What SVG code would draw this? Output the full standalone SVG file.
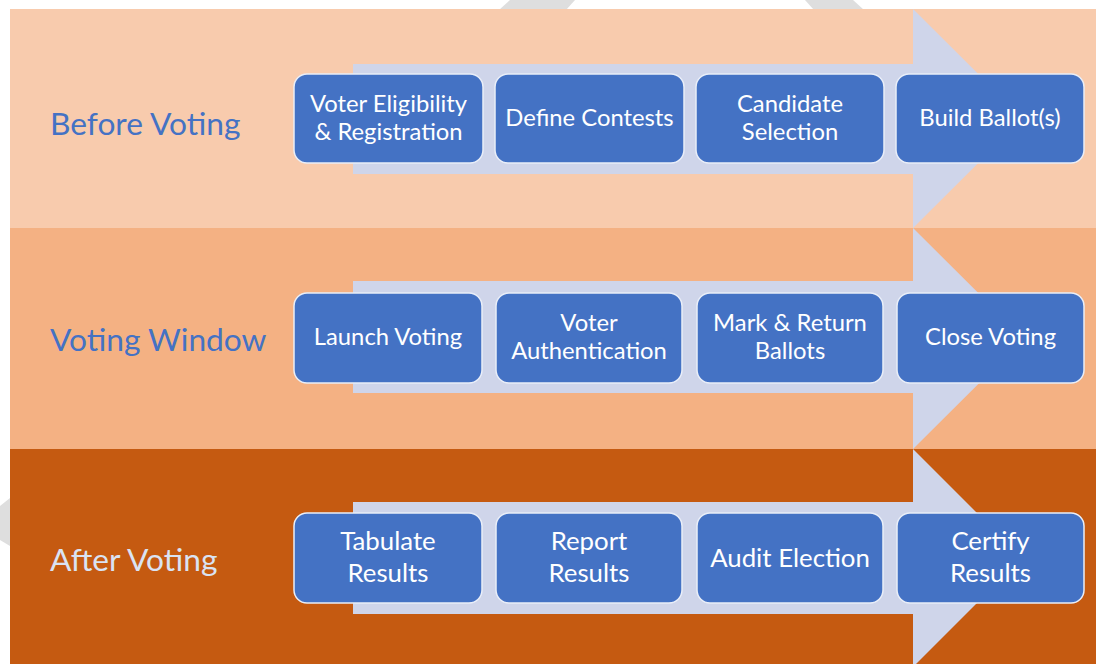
<svg xmlns="http://www.w3.org/2000/svg" width="1096" height="664" viewBox="0 0 1096 664">
<style>
.box{fill:#4472C4;stroke:#E9EEF8;stroke-width:1.5}
.bt{font-family:Lato,"Liberation Sans",sans-serif;font-size:23.8px;fill:#FFFFFF;text-anchor:middle}
.bt2{font-family:Lato,"Liberation Sans",sans-serif;font-size:25.8px;fill:#FFFFFF;text-anchor:middle}
.lbl{font-family:Lato,"Liberation Sans",sans-serif;font-size:31.7px}
.arr{fill:#CFD5EA}
.wm{fill:#DEDEDE}
</style>
<rect width="1096" height="664" fill="#FFFFFF"/>
<g id="watermark">
<polygon class="wm" points="510,0 575,0 566,10 499,10"/>
<polygon class="wm" points="805,0 853,0 864,10 814,10"/>
<polygon class="wm" points="0,506 10,498 10,546 0,540"/>
</g>
<g id="bands">
<rect x="10" y="9" width="1086" height="219" fill="#F8CBAD"/>
<rect x="10" y="228" width="1086" height="221" fill="#F4B183"/>
<rect x="10" y="449" width="1086" height="215" fill="#C55A11"/>
</g>
<g id="connectors">
<polygon class="arr" points="353,64 913,64 913,9 1023,118.5 913,228 913,174 353,174"/>
<polygon class="arr" points="353,281 913,281 913,228 1024,338.5 913,449 913,393 353,393"/>
<polygon class="arr" points="353,502 913,502 913,449 1022,558 913,667 913,614 353,614"/>
</g>
<g id="label-before"><text class="lbl" x="50" y="135" fill="#4472C4">Before Voting</text></g>
<g id="label-window"><text class="lbl" x="50" y="351" fill="#4472C4">Voting Window</text></g>
<g id="label-after"><text class="lbl" x="50" y="571" fill="#DAE3F3">After Voting</text></g>

<g id="n-eligibility"><rect class="box" x="294" y="74" width="189" height="89" rx="13"/><text class="bt" x="388.5" y="112">Voter Eligibility</text><text class="bt" x="388.5" y="140">&amp; Registration</text></g>
<g id="n-contests"><rect class="box" x="495" y="74" width="189" height="89" rx="13"/><text class="bt" x="589.5" y="126">Define Contests</text></g>
<g id="n-candidate"><rect class="box" x="696" y="74" width="188" height="89" rx="13"/><text class="bt" x="790" y="112">Candidate</text><text class="bt" x="790" y="140">Selection</text></g>
<g id="n-ballots"><rect class="box" x="896" y="74" width="188" height="89" rx="13"/><text class="bt" x="990" y="126">Build Ballot(s)</text></g>

<g id="n-launch"><rect class="box" x="294" y="293" width="188" height="90" rx="13"/><text class="bt" x="388" y="345">Launch Voting</text></g>
<g id="n-auth"><rect class="box" x="496" y="293" width="186" height="90" rx="13"/><text class="bt" x="589" y="331">Voter</text><text class="bt" x="589" y="359">Authentication</text></g>
<g id="n-mark"><rect class="box" x="697" y="293" width="186" height="90" rx="13"/><text class="bt" x="790" y="331">Mark &amp; Return</text><text class="bt" x="790" y="359">Ballots</text></g>
<g id="n-close"><rect class="box" x="897" y="293" width="187" height="90" rx="13"/><text class="bt" x="990.5" y="345">Close Voting</text></g>

<g id="n-tabulate"><rect class="box" x="294" y="513" width="188" height="90" rx="13"/><text class="bt2" x="388" y="550">Tabulate</text><text class="bt2" x="388" y="582">Results</text></g>
<g id="n-report"><rect class="box" x="496" y="513" width="186" height="90" rx="13"/><text class="bt2" x="589" y="550">Report</text><text class="bt2" x="589" y="582">Results</text></g>
<g id="n-audit"><rect class="box" x="697" y="513" width="186" height="90" rx="13"/><text class="bt2" x="790" y="567">Audit Election</text></g>
<g id="n-certify"><rect class="box" x="897" y="513" width="187" height="90" rx="13"/><text class="bt2" x="990.5" y="550">Certify</text><text class="bt2" x="990.5" y="582">Results</text></g>
</svg>
